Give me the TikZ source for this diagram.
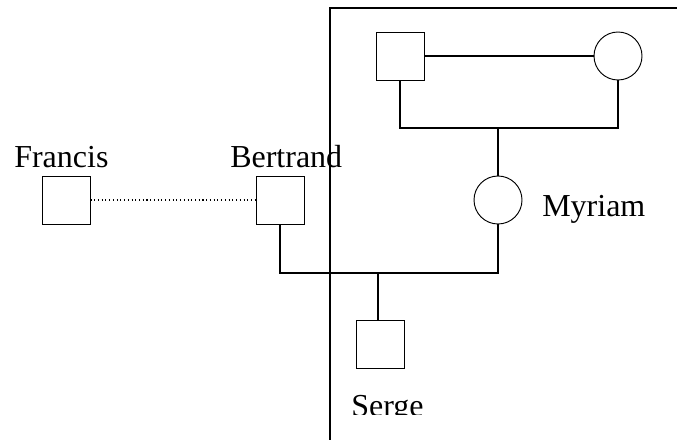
\documentclass[tikz,border=0pt]{standalone}
\usepackage{fontspec}
\setmainfont{Liberation Serif}
\begin{document}
\begin{tikzpicture}[x=0.75pt,y=-0.75pt,
  person/.style={draw,line width=0.7pt,minimum size=36pt,inner sep=0pt,fill=white},
  male/.style={person,rectangle},
  female/.style={person,circle},
  link/.style={line width=1.3pt},
  lbl/.style={inner sep=0pt,anchor=base west,font=\fontsize{24}{28}\selectfont}]
\useasboundingbox (0,0) rectangle (677,439);
\clip (0,0) rectangle (677,439);
% frame
\draw[line width=1.4pt] (330,445) -- (330,8) -- (685,8);
% persons
\node[male] (gf) at (400,56) {};
\node[female] (gm) at (618,56) {};
\node[female] (my) at (498,200) {};
\node[male] (fr) at (66,200) {};
\node[male] (be) at (280,200) {};
\node[male] (se) at (380,344) {};
\coordinate (j1) at (498,128);
\coordinate (j2) at (378,273);
% connectors
\draw[link] (gf.east) -- (gm.west);
\draw[link] (gf.south) |- (j1) -| (gm.south);
\draw[link] (j1) -- (my.north);
\draw[link] (be.south) |- (j2) -| (my.south);
\draw[link] (j2) -- (j2 |- se.north);
\draw[line width=0.8pt,dotted] (fr.east) -- (be.west);
% labels
\node[lbl] (lfr) at (14,167) {Francis};
\node[lbl] (lbe) at (230,167) {Bertrand};
\node[lbl] (lmy) at (542,216) {Myriam};
\begin{scope}
\clip (0,0) rectangle (677,414);
\node[lbl] (lse) at (351,416) {Serge};
\end{scope}
\end{tikzpicture}
\end{document}
